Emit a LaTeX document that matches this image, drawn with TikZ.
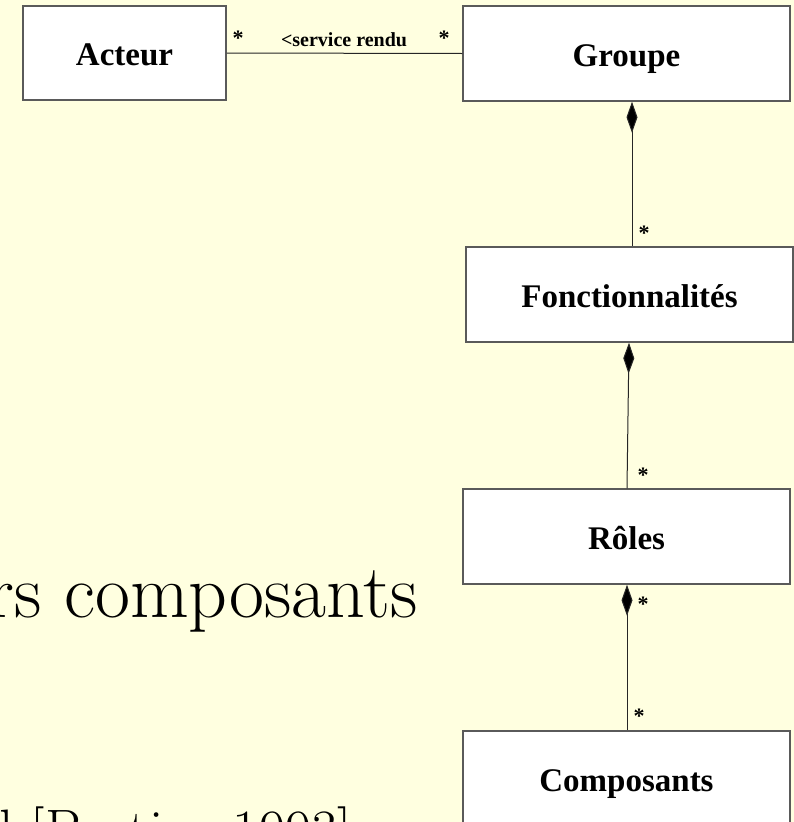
\documentclass[tikz,border=0pt]{standalone}
\usepackage{fontspec}
\newfontfamily\umlfont{Liberation Serif}
\usetikzlibrary{arrows.meta}
\definecolor{slidebg}{HTML}{FFFFE0}
\definecolor{boxline}{HTML}{5A5A5A}

\begin{document}
\begin{tikzpicture}[x=1pt,y=-1pt,
  classbox/.style={draw=boxline, line width=1.5pt, fill=white,
    minimum width=327pt, minimum height=95pt, inner sep=0pt,
    text height=25pt, text depth=0pt,
    font=\umlfont\bfseries\fontsize{33}{38}\selectfont},
  assoc/.style={draw=black!85, line width=1pt},
  compo/.style={assoc, {Diamond[length=31pt,width=11pt,fill=black]}-},
  mult/.style={font=\umlfont\bfseries\fontsize{22}{24}\selectfont,
    inner sep=0pt, anchor=base},
  rolename/.style={font=\umlfont\bfseries\fontsize{20}{22}\selectfont,
    inner sep=0pt, anchor=base},
  slidetext/.style={font=\fontsize{76}{84}\selectfont, inner sep=0pt,
    anchor=base east}]

% slide background and page frame
\useasboundingbox (0,0) rectangle (794,822);
\fill[slidebg] (0,0) rectangle (794,822);
\clip (0,0) rectangle (794,822);

% slide text behind the diagram
\node[slidetext] (txtA) at (418,617) {rs composants};
\node[slidetext, font=\fontsize{57}{62}\selectfont] (txtB) at (352,849) {l [Bastien 1993]};

% classes
\node[classbox, minimum width=203pt, minimum height=94pt] (acteur) at (124.5,53) {Acteur};
\node[classbox] (groupe) at (626.5,53.5) {Groupe};
\node[classbox] (fonc)   at (629.5,294.5) {Fonctionnalités};
\node[classbox] (roles)  at (626.5,536.5) {Rôles};
\node[classbox] (comp)   at (626.5,778.5) {Composants};

% association Acteur -- Groupe
\draw[assoc] (acteur.east) -- (groupe.west);
\node[mult] (mA1) at (238,45) {*};
\node[rolename] (svc) at (344,46) {<service rendu};
\node[mult] (mA2) at (444,45) {*};

% compositions
\draw[compo] ([xshift=5.5pt]groupe.south) -- ([xshift=2.5pt]fonc.north);
\node[mult] (mB) at (644,240) {*};

\draw[compo] ([xshift=-0.5pt]fonc.south) -- ([xshift=0.5pt]roles.north);
\node[mult] (mC) at (643,482) {*};

\draw[compo] ([xshift=0.5pt]roles.south) -- ([xshift=0.5pt]comp.north);
\node[mult] (mD1) at (643,611) {*};
\node[mult] (mD2) at (639,723) {*};
\end{tikzpicture}
\end{document}
